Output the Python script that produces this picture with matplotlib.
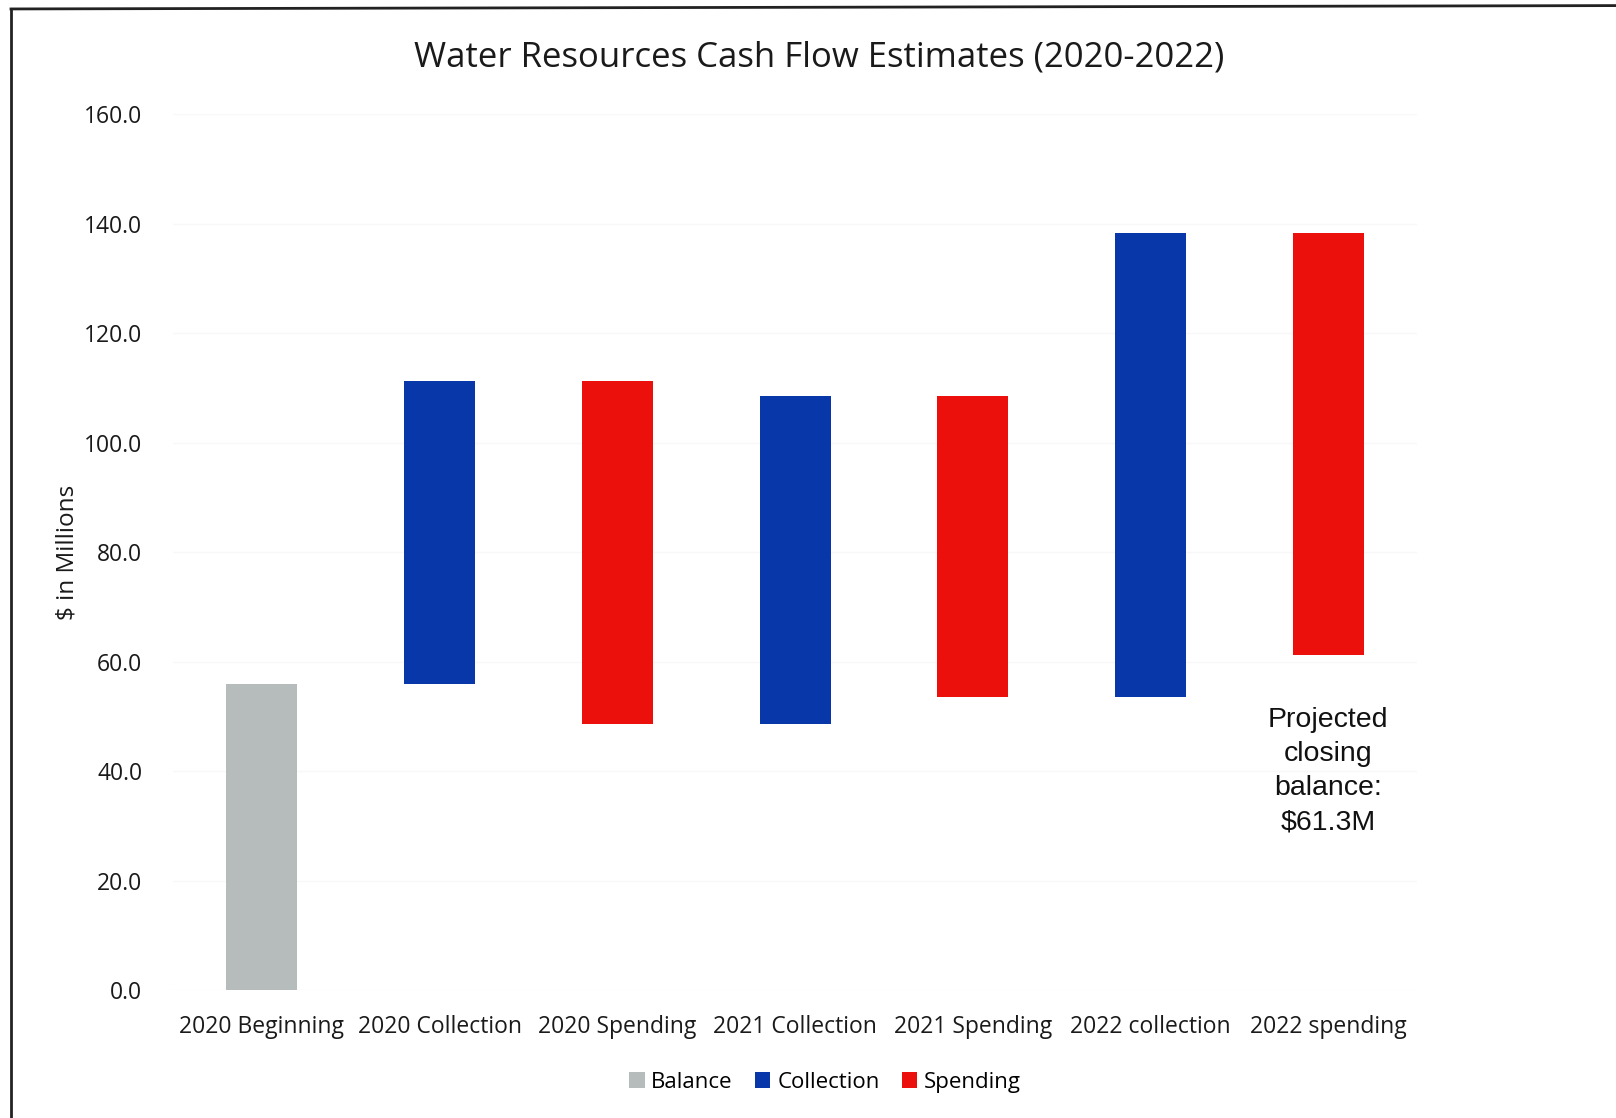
import matplotlib.pyplot as plt
from matplotlib.patches import Patch
from matplotlib.lines import Line2D
import numpy as np

# categories along the x axis
categories = ['2020 Beginning', '2020 Collection', '2020 Spending',
              '2021 Collection', '2021 Spending', '2022 collection',
              '2022 spending']

# opening balance and the yearly flows ($ millions)
opening_balance = 55.9
collections = [55.4, 59.8, 84.7]
spendings = [62.6, 54.9, 77.0]

kinds = ['Balance', 'Collection', 'Spending']
colors = {'Balance': '#b6bbbb', 'Collection': '#0737a8', 'Spending': '#ec100c'}

# build the floating bars: each flow starts where the running total left off
flows = [opening_balance]
bar_kind = ['Balance']
for c, s in zip(collections, spendings):
	flows += [c, -s]
	bar_kind += ['Collection', 'Spending']

running = np.cumsum(flows)
starts = np.concatenate([[0], running[:-1]])
bottoms = np.minimum(starts, running)
heights = np.abs(flows)
closing = running[-1]

fig = plt.figure(figsize=(16.16, 11.18), dpi=100)
ax = fig.add_axes([0.107, 0.1145, 0.770, 0.7831])

x = np.arange(len(categories))
ax.bar(x, heights, bottom=bottoms, width=0.4,
	color=[colors[k] for k in bar_kind], zorder=3)

ax.set_xlim(-0.5, len(categories) - 0.5)
ax.set_ylim(0, 160)
ax.set_yticks(np.arange(0, 161, 20))
ax.set_yticklabels(['{:.1f}'.format(v) for v in np.arange(0, 161, 20)])
ax.set_xticks(x)
ax.set_xticklabels(categories)

font = 'Open Sans'
ax.tick_params(axis='both', length=0, labelsize=16.5, colors='#1a1a1a')
ax.tick_params(axis='y', pad=22)
ax.tick_params(axis='x', pad=18)
for lbl in ax.get_xticklabels() + ax.get_yticklabels():
	lbl.set_fontfamily(font)

# barely visible gridlines, as on the printed page
ax.yaxis.grid(True, color='#f8f8f8', linewidth=1.0, zorder=0)
for sp in ax.spines.values():
	sp.set_visible(False)

ax.set_ylabel('$ in Millions', fontsize=17.5, family=font, color='#1a1a1a', labelpad=3)

fig.text(0.507, 0.949, 'Water Resources Cash Flow Estimates (2020-2022)',
	ha='center', va='center', fontsize=25, family=font, color='#1a1a1a')

# closing balance note under the last bar
ax.text(x[-1], 51.8, 'Projected\nclosing\nbalance:\n${:.1f}M'.format(closing),
	ha='center', va='top', fontsize=20.5, family='Liberation Sans',
	color='#111111', linespacing=1.42, zorder=4)

handles = [Patch(facecolor=colors[k], edgecolor='none', label=k) for k in kinds]
fig.legend(handles=handles, loc='center', bbox_to_anchor=(0.5105, 0.032),
	ncol=3, frameon=False, handlelength=0.7, handleheight=0.7,
	handletextpad=0.3, columnspacing=1.0, prop={'family': font, 'size': 16})

# page frame: left and top edges only
fig.add_artist(Line2D([0.0068, 0.0068], [0.0, 0.992], color='#222222', lw=2.0))
fig.add_artist(Line2D([0.0068, 1.0], [0.992, 0.995], color='#222222', lw=2.0))

fig.savefig('out.png', dpi=100, facecolor='white')
